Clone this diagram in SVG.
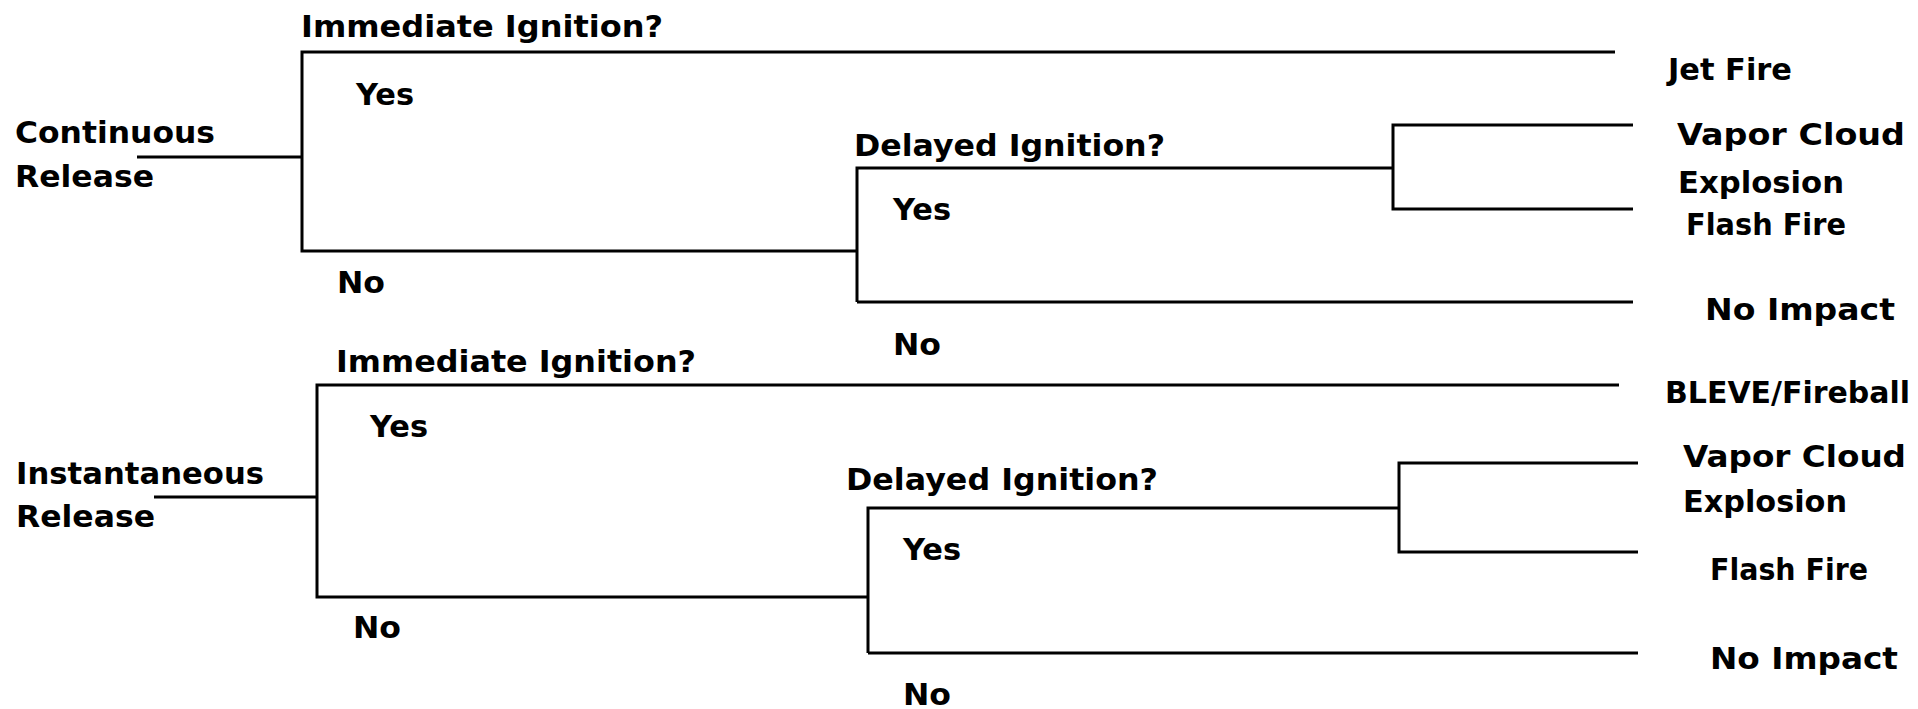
<svg xmlns="http://www.w3.org/2000/svg" width="1918" height="709" viewBox="0 0 1918 709">
<style>
text{font-family:"DejaVu Sans","Liberation Sans",sans-serif;font-weight:bold;font-size:30px;fill:#000}
.ln{fill:none;stroke:#000;stroke-width:3}
</style>
<rect width="1918" height="709" fill="#fff"/>
<g id="connectors">
<path class="ln" d="M137,157 H302 M1615,52 H302 V251 H857 M857,302 V168 H1393 M1633,125 H1393 V209 H1633 M857,302 H1633"/>
<path class="ln" d="M154,497 H317 M1619,385 H317 V597 H868 M868,653 V508 H1399 M1638,463 H1399 V552 H1638 M868,653 H1638"/>
</g>
<g id="continuous-release"><text x="15" y="143" textLength="200" lengthAdjust="spacingAndGlyphs">Continuous</text><text x="15" y="187" textLength="139" lengthAdjust="spacingAndGlyphs">Release</text></g>
<g id="immediate-ignition-1"><text x="301" y="37" textLength="362" lengthAdjust="spacingAndGlyphs">Immediate Ignition?</text><text x="356" y="105" textLength="58" lengthAdjust="spacingAndGlyphs">Yes</text><text x="337" y="293" textLength="48" lengthAdjust="spacingAndGlyphs">No</text></g>
<g id="delayed-ignition-1"><text x="854" y="156" textLength="311" lengthAdjust="spacingAndGlyphs">Delayed Ignition?</text><text x="893" y="220" textLength="58" lengthAdjust="spacingAndGlyphs">Yes</text><text x="893" y="355" textLength="48" lengthAdjust="spacingAndGlyphs">No</text></g>
<g id="outcome-jet-fire"><text x="1668" y="80" textLength="124" lengthAdjust="spacingAndGlyphs">Jet Fire</text></g>
<g id="outcome-vce-1"><text x="1677" y="145" textLength="228" lengthAdjust="spacingAndGlyphs">Vapor Cloud</text><text x="1678" y="193" textLength="166" lengthAdjust="spacingAndGlyphs">Explosion</text></g>
<g id="outcome-flash-fire-1"><text x="1686" y="235" textLength="160" lengthAdjust="spacingAndGlyphs">Flash Fire</text></g>
<g id="outcome-no-impact-1"><text x="1705" y="320" textLength="190" lengthAdjust="spacingAndGlyphs">No Impact</text></g>
<g id="instantaneous-release"><text x="16" y="484" textLength="248" lengthAdjust="spacingAndGlyphs">Instantaneous</text><text x="16" y="527" textLength="139" lengthAdjust="spacingAndGlyphs">Release</text></g>
<g id="immediate-ignition-2"><text x="336" y="372" textLength="360" lengthAdjust="spacingAndGlyphs">Immediate Ignition?</text><text x="370" y="437" textLength="58" lengthAdjust="spacingAndGlyphs">Yes</text><text x="353" y="638" textLength="48" lengthAdjust="spacingAndGlyphs">No</text></g>
<g id="delayed-ignition-2"><text x="846" y="490" textLength="312" lengthAdjust="spacingAndGlyphs">Delayed Ignition?</text><text x="903" y="560" textLength="58" lengthAdjust="spacingAndGlyphs">Yes</text><text x="903" y="705" textLength="48" lengthAdjust="spacingAndGlyphs">No</text></g>
<g id="outcome-bleve"><text x="1665" y="403" textLength="245" lengthAdjust="spacingAndGlyphs">BLEVE/Fireball</text></g>
<g id="outcome-vce-2"><text x="1683" y="467" textLength="223" lengthAdjust="spacingAndGlyphs">Vapor Cloud</text><text x="1683" y="512" textLength="164" lengthAdjust="spacingAndGlyphs">Explosion</text></g>
<g id="outcome-flash-fire-2"><text x="1710" y="580" textLength="158" lengthAdjust="spacingAndGlyphs">Flash Fire</text></g>
<g id="outcome-no-impact-2"><text x="1710" y="669" textLength="188" lengthAdjust="spacingAndGlyphs">No Impact</text></g>
</svg>
